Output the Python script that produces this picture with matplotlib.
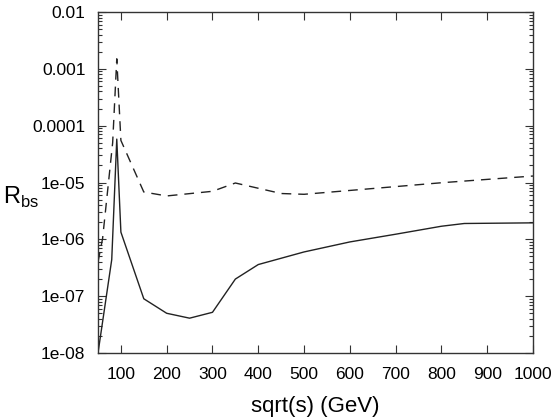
import matplotlib
matplotlib.use('Agg')
import matplotlib.pyplot as plt
import matplotlib.ticker as mticker

plt.rcParams['font.family'] = ['Liberation Sans', 'DejaVu Sans']

# sqrt(s) in GeV and R_bs values
x_solid = [50, 80, 91, 100, 150, 200, 250, 300, 350, 400, 500, 600, 700, 800, 850, 1000]
r_solid = [1.0e-8, 4.4e-7, 5.8e-5, 1.34e-6, 9.0e-8, 5.0e-8, 4.1e-8, 5.2e-8, 2.0e-7,
           3.6e-7, 6.0e-7, 9.0e-7, 1.23e-6, 1.7e-6, 1.9e-6, 1.95e-6]

x_dash = [50, 60, 82, 91, 100, 150, 200, 300, 350, 450, 500, 800, 1000]
r_dash = [4.0e-7, 1.03e-6, 5.0e-5, 1.5e-3, 5.5e-5, 6.8e-6, 5.8e-6, 7.0e-6, 9.8e-6,
          6.4e-6, 6.2e-6, 9.9e-6, 1.3e-5]

xticks = [100, 200, 300, 400, 500, 600, 700, 800, 900, 1000]
yticks = [1e-8, 1e-7, 1e-6, 1e-5, 1e-4, 1e-3, 1e-2]
ytick_labels = ['1e-08', '1e-07', '1e-06', '1e-05', '0.0001', '0.001', '0.01']


fig = plt.figure(figsize=(5.54, 4.19), dpi=100)
ax = fig.add_axes([98 / 554, 1 - 353 / 419, 435 / 554, 341 / 419])

ax.plot(x_solid, r_solid, color='#222222', lw=1.0)
ax.plot(x_dash, r_dash, color='#222222', lw=1.0, dashes=(7, 5))

ax.set_yscale('log')
ax.set_xlim(50, 1000)
ax.set_ylim(1e-8, 1e-2)

ax.set_xticks(xticks)
ax.set_xticklabels([str(v) for v in xticks])
ax.set_yticks(yticks)
ax.set_yticklabels(ytick_labels)
ax.yaxis.set_minor_locator(mticker.LogLocator(base=10, subs=range(2, 10)))
ax.yaxis.set_minor_formatter(mticker.NullFormatter())

ax.tick_params(which='both', direction='in', top=True, right=True,
               labelsize=12.5, color='#333333', width=0.8)
ax.tick_params(which='major', length=6)
ax.tick_params(which='minor', length=3)
ax.tick_params(axis='x', which='major', pad=10)
ax.tick_params(axis='y', which='major', pad=9)
for s in ax.spines.values():
    s.set_color('#333333')
    s.set_linewidth(1.0)

ax.set_xlabel('sqrt(s) (GeV)', fontsize=16, va='center')
ax.xaxis.set_label_coords(0.5, -0.157)
ax.set_ylabel(r'R$_{\mathregular{bs}}$', fontsize=17, rotation=0, va='center')
ax.yaxis.set_label_coords(-0.178, 0.455)

fig.savefig('out.png', dpi=100)
